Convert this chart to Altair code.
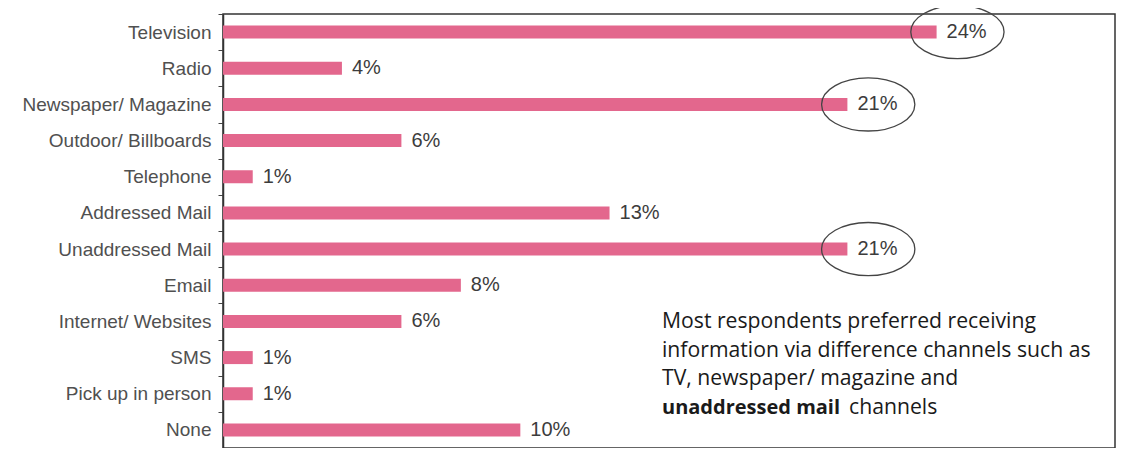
import altair as alt
import pandas as pd

categories = ["Television", "Radio", "Newspaper/ Magazine", "Outdoor/ Billboards",
              "Telephone", "Addressed Mail", "Unaddressed Mail", "Email",
              "Internet/ Websites", "SMS", "Pick up in person", "None"]
values = [24, 4, 21, 6, 1, 13, 21, 8, 6, 1, 1, 10]
circled = ["Television", "Newspaper/ Magazine", "Unaddressed Mail"]

note_lines = ["Most respondents preferred receiving",
              "information via difference channels such as",
              "TV, newspaper/ magazine and"]
note_bold = "unaddressed mail"
note_tail = "channels"

df = pd.DataFrame({
    "channel": categories,
    "pct": values,
    "label": [f"{v}%" for v in values],
    "circled": [c in circled for c in categories],
})

y_enc = alt.Y("channel:N", sort=categories, title=None,
              scale=alt.Scale(paddingInner=0, paddingOuter=0),
              axis=alt.Axis(labelFont="Liberation Sans", labelFontSize=19,
                            labelColor="#505050", labelPadding=7, labelLimit=400,
                            tickBand="extent", tickSize=5, tickColor="#444",
                            domainColor="#333", domainWidth=1.5, grid=False))
x_scale = alt.Scale(domain=[0, 30], nice=False)
x_enc = alt.X("pct:Q", scale=x_scale, axis=None)

base = alt.Chart(df).encode(y=y_enc, x=x_enc)

bars = base.mark_bar(size=13, color="#e3678d")

labels = base.mark_text(align="left", baseline="middle", dx=10,
                        font="Liberation Sans", fontSize=20, color="#3c3c3c"
                        ).encode(text="label:N")

# ellipse centred a little to the right of the bar end (about 0.7 % units = 20 px)
ellipse_path = "M-1,0A1,0.57,0,1,1,1,0A1,0.57,0,1,1,-1,0Z"
ellipses = alt.Chart(df).transform_filter("datum.circled").transform_calculate(
    ex="datum.pct + 0.7"
).mark_point(
    shape=ellipse_path, size=8700, filled=False, stroke="#444",
    strokeWidth=1.3, opacity=1
).encode(y=y_enc, x=alt.X("ex:Q", scale=x_scale, axis=None))

note = alt.Chart(pd.DataFrame({"t": [note_lines]})).mark_text(
    align="left", baseline="alphabetic", font="Open Sans", fontSize=21.2,
    lineHeight=28.5, color="#1a1a1a"
).encode(x=alt.value(439), y=alt.value(314), text="t")

note_b = alt.Chart(pd.DataFrame({"t": [note_bold]})).mark_text(
    align="left", baseline="alphabetic", font="Open Sans", fontSize=20,
    fontWeight="bold", color="#1a1a1a"
).encode(x=alt.value(439), y=alt.value(399.5), text="t")

note_t = alt.Chart(pd.DataFrame({"t": [note_tail]})).mark_text(
    align="left", baseline="alphabetic", font="Open Sans", fontSize=21.2,
    color="#1a1a1a"
).encode(x=alt.value(626), y=alt.value(399.5), text="t")

chart = alt.layer(bars, labels, ellipses, note, note_b, note_t).properties(
    width=892, height=434,
    autosize=alt.AutoSizeParams(type="none"),
    padding={"left": 215, "top": 6, "right": 2, "bottom": 0},
    background="white",
).configure_view(stroke="#333", strokeWidth=1.5)

chart.save("out.html", embed_options={"renderer": "svg", "actions": False})
